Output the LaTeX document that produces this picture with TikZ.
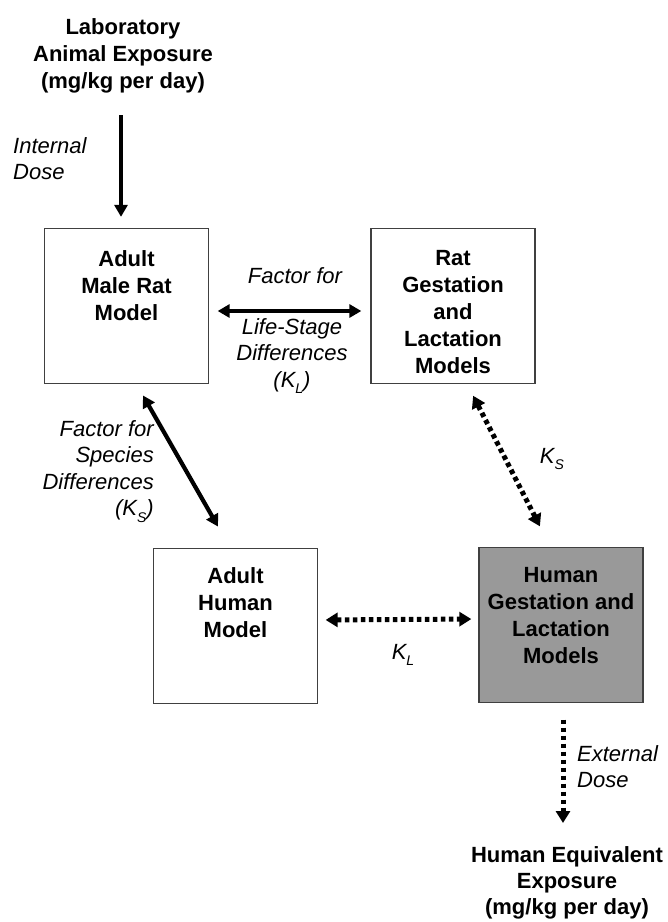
\documentclass[tikz,border=0pt]{standalone}
\usepackage{fontspec}
\setmainfont{Liberation Sans}
\usetikzlibrary{arrows.meta}
\newcommand\lowsub[1]{\raisebox{-0.3em}{\fontsize{14}{14}\selectfont #1}}
\begin{document}
\begin{tikzpicture}[x=1pt,y=-1pt,
  modelbox/.style={draw=black!75, line width=1.3pt, minimum width=164pt, minimum height=155pt, inner sep=0pt},
  boldtxt/.style={font=\fontsize{22}{27}\selectfont\bfseries, align=center, inner sep=0pt, anchor=north},
  itlbl/.style={font=\fontsize{22}{26.5}\selectfont\itshape, inner sep=0pt},
  solidarr/.style={line width=4.2pt, {Triangle[length=12pt,width=13pt]}-{Triangle[length=12pt,width=13pt]}},
  solidone/.style={line width=4.2pt, -{Triangle[length=12pt,width=13pt]}},
  dotarr/.style={line width=5pt, dash pattern=on 4.5pt off 3.5pt, {Triangle[length=12pt,width=14pt]}-{Triangle[length=12pt,width=14pt]}},
  dotone/.style={line width=5pt, dash pattern=on 4.5pt off 3.5pt, -{Triangle[length=12pt,width=14pt]}}
]
\useasboundingbox (0,0) rectangle (668,922);

% boxes
\node[modelbox] (mrat) at (126.5,306) {};
\node[modelbox] (rgest) at (453,306) {};
\node[modelbox] (ahum) at (235.5,626) {};
\node[modelbox, fill=black!40] (hgest) at (561,625) {};

% box texts
\node[boldtxt] (mratT) at (126.5,250) {Adult\\Male Rat\\Model};
\node[boldtxt] (rgestT) at (453,250) {Rat\\Gestation\\and\\Lactation\\Models};
\node[boldtxt] (ahumT) at (235.5,567) {Adult\\Human\\Model};
\node[boldtxt] (hgestT) at (561,567) {Human\\Gestation and\\Lactation\\Models};

% top and bottom texts
\node[boldtxt] (lab) at (123,18) {Laboratory\\Animal Exposure\\(mg/kg per day)};
\node[boldtxt, font=\fontsize{22}{26}\selectfont\bfseries] (heq) at (567,846) {Human Equivalent\\Exposure\\(mg/kg per day)};

% labels
\node[itlbl, align=left, anchor=north west] (intd) at (13,137) {Internal\\Dose};
\node[itlbl, anchor=north] (lsA) at (295,267) {Factor for};
\node[itlbl, align=center, anchor=north] (lsB) at (292,318) {Life-Stage\\Differences\\(\textit{K}\lowsub{\textit{L}})};
\node[itlbl, align=right, anchor=north east] (spd) at (154,420) {Factor for\\Species\\Differences\\(\textit{K}\lowsub{\textit{S}})};
\node[itlbl] (ksR) at (552,459) {\textit{K}\lowsub{\textit{S}}};
\node[itlbl] (klB) at (403,655) {\textit{K}\lowsub{\textit{L}}};
\node[itlbl, align=left, anchor=north west] (extd) at (577,745) {External\\Dose};

% connectors
\draw[solidone, shorten <=22pt, shorten >=11pt] ([xshift=-2pt]lab.south) -- ([xshift=-2pt]lab.south |- mrat.north);
\draw[solidarr, shorten <=8.5pt, shorten >=9pt] ([yshift=-5pt]mrat.east) -- ([yshift=-5pt]rgest.west);
\draw[solidarr, shorten <=13pt, shorten >=24.5pt] ([xshift=10pt]mrat.south) -- ([xshift=-5.3pt]ahum.north);
\draw[dotarr, shorten <=13pt, shorten >=23pt] ([xshift=14.2pt]rgest.south) -- ([xshift=-10.6pt]hgest.north);
\draw[dotarr, shorten <=7.5pt, shorten >=7pt] ([yshift=6pt]ahum.east) -- ([yshift=6pt]hgest.west);
\draw[dotone, shorten <=16.5pt, shorten >=23pt] ([xshift=2pt]hgest.south) -- ([xshift=2pt]hgest.south |- heq.north);
\end{tikzpicture}
\end{document}
